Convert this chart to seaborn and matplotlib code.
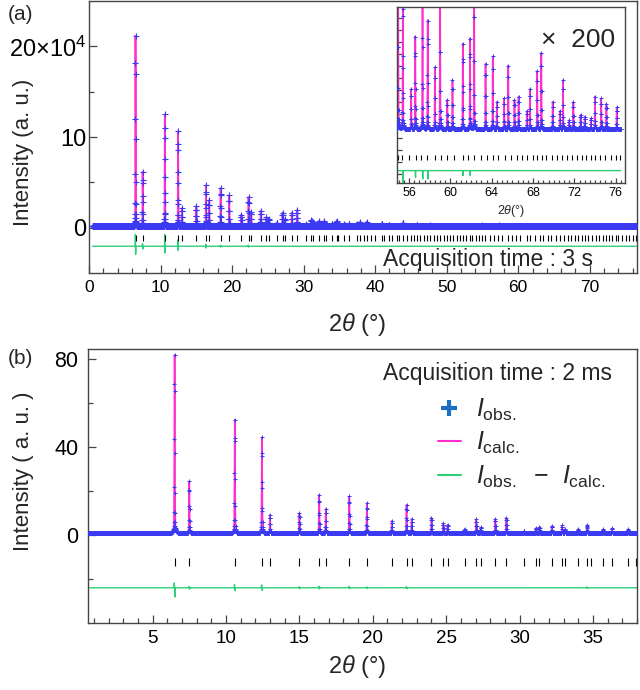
import numpy as np
import pandas as pd
import matplotlib
matplotlib.use("Agg")
import matplotlib.pyplot as plt
from matplotlib.ticker import MultipleLocator, FixedLocator, NullFormatter
from matplotlib.lines import Line2D
import seaborn as sns

# ---------------- data ----------------
# main reflection positions (2theta, deg) with peak heights
peak_pos = [6.5, 7.5, 10.6, 12.45, 13.0, 15.0, 16.35, 16.8, 18.4, 19.6,
            21.3, 22.3, 22.65, 24.0, 24.8, 25.1, 26.25, 27.05, 27.35, 28.35,
            29.1, 30.3, 31.1, 31.35, 32.2, 32.9, 33.1, 34.0, 34.6, 35.7,
            36.3, 37.4]
# panel (a): heights in units of 1e4 counts
heights_a = [21.0, 6.0, 12.3, 10.5, 2.0, 2.2, 4.5, 2.9, 4.2, 3.4,
             1.3, 3.2, 1.6, 1.7, 1.0, 0.8, 0.4, 1.5, 0.8, 1.5,
             1.8, 0.2, 0.7, 0.5, 0.6, 0.6, 0.3, 0.3, 0.6, 0.2,
             0.3, 0.2]
# panel (b): heights
heights_b = [81.0, 23.5, 51.5, 43.5, 8.3, 9.0, 17.4, 11.0, 16.7, 13.6,
             5.6, 12.9, 6.4, 7.1, 4.5, 3.8, 1.8, 6.4, 2.6, 6.5,
             7.1, 1.0, 2.3, 2.7, 3.3, 3.5, 1.8, 2.0, 3.8, 1.7,
             2.3, 1.8]
# extra high-angle peaks of panel (a) (seen in the x200 inset), 1e4 counts
high_pos = [37.9, 38.8, 40.9, 41.9, 43.9, 45.8, 47.7, 50.5,
            54.94, 55.4, 56.2, 56.6, 57.3, 57.8, 58.5, 59.0, 59.7, 60.2,
            61.2, 61.9, 62.3, 63.4, 64.1, 64.5, 65.2, 65.6, 66.2, 66.6,
            67.4, 67.7, 68.4, 68.8, 69.9, 70.6, 70.9, 71.5, 71.9, 72.6,
            73.0, 73.6, 74.0, 74.6, 75.1, 76.1]
high_heights = [0.5, 0.5, 0.3, 0.15, 0.4, 0.15, 0.1, 0.08,
                0.09, 0.08, 0.022, 0.051, 0.10, 0.060, 0.034, 0.085, 0.016, 0.027,
                0.047, 0.050, 0.075, 0.036, 0.040, 0.015, 0.017, 0.035, 0.016, 0.018,
                0.010, 0.022, 0.032, 0.042, 0.015, 0.010, 0.027, 0.005, 0.015, 0.008,
                0.007, 0.006, 0.018, 0.017, 0.014, 0.012]
# Bragg reflection tick positions
refl_pos = [6.5, 7.5, 10.6, 12.45, 13.0, 15.0, 16.35, 16.8, 18.4, 19.6,
            21.3, 22.3, 22.65, 24.0, 24.8, 25.1, 26.25, 27.05, 27.35, 28.35,
            29.1, 30.3, 31.1, 31.35, 32.2, 32.9, 33.1, 34.0, 34.6, 34.85,
            35.7, 36.3, 37.4, 37.9, 38.4, 38.8, 39.4, 40.0, 40.9, 41.3,
            41.9, 42.4, 43.0, 43.4, 43.9, 44.5, 45.0, 45.4, 45.8, 46.3,
            46.8, 47.2, 47.7, 48.2, 48.6, 49.1, 49.6, 50.0, 50.5, 50.9,
            51.4, 51.8, 52.3, 52.7, 53.2, 53.6, 54.1, 54.5, 54.95, 55.36,
            56.0, 56.65, 57.2, 57.75, 58.5, 59.1, 59.7, 60.3, 61.2, 61.7,
            62.3, 63.0, 63.5, 64.1, 64.6, 65.3, 65.9, 66.4, 66.9, 67.4,
            68.0, 68.4, 68.9, 69.3, 69.8, 70.3, 70.8, 71.3, 71.8, 72.3,
            72.7, 73.1, 73.6, 74.0, 74.5, 75.0, 75.5, 76.0, 76.4]
# residual spikes (obs - calc)
diff_pos_a = [6.5, 7.5, 10.6, 12.45, 16.35, 18.4, 22.3,
              55.4, 56.6, 57.3, 57.8, 61.2, 61.9]
diff_up_a = [1.3, 0.3, 1.3, 0.7, 0.2, 0.1, 0.1,
             0.0, 0.0, 0.0, 0.0, 0.0, 0.0]
diff_down_a = [0.9, 0.3, 0.75, 0.45, 0.2, 0.1, 0.1,
               0.0065, 0.0037, 0.0046, 0.0046, 0.0028, 0.0028]
diff_pos_b = [6.5, 7.5, 10.6, 12.45, 15.0, 16.35, 18.4, 19.6, 22.3, 34.6]
diff_up_b = [2.2, 0.6, 1.5, 1.3, 0.5, 0.7, 0.6, 0.4, 0.5, 0.4]
diff_down_b = [4.2, 0.6, 1.3, 1.2, 0.4, 0.5, 0.4, 0.3, 0.4, 0.3]
background_a = 0.15
background_b = 0.8

# ---------------- styling ----------------
sns.set_theme(style="white")
plt.rcParams['font.family'] = ['Liberation Sans', 'DejaVu Sans']
plt.rcParams['mathtext.fontset'] = 'custom'
plt.rcParams['mathtext.rm'] = 'Liberation Sans'
plt.rcParams['mathtext.it'] = 'Liberation Sans:italic'
plt.rcParams['mathtext.bf'] = 'Liberation Sans:bold'

BLUE = '#3a3af2'
PINK = '#ff2fcf'
GREEN = '#2fcf7a'
LEG_BLUE = '#1f6fc0'
SPINE = '#444444'


def pv(x, pos, hts, fwhm=0.04, eta=0.4):
    y = np.zeros_like(x)
    for p, a in zip(pos, hts):
        t = (x - p) / (fwhm / 2)
        y += a * ((1 - eta) * np.exp(-np.log(2) * t ** 2) + eta / (1 + t ** 2))
    return y


def resid(x, pos, up, down, w=0.012):
    y = np.zeros_like(x)
    for p, u, d in zip(pos, up, down):
        y += u * np.exp(-((x - p + 1.6 * w) / w) ** 2) \
            - d * np.exp(-((x - p - 1.6 * w) / w) ** 2)
    return y


xa = np.arange(0.5, 76.5, 0.01)
calc_a = background_a + pv(xa, peak_pos + high_pos, heights_a + high_heights)
res_a = resid(xa, diff_pos_a, diff_up_a, diff_down_a)
obs_a = calc_a + res_a
dfa = pd.DataFrame({'x': xa, 'obs': obs_a, 'calc': calc_a, 'res': res_a})

xb = np.arange(0.6, 38.0, 0.01)
calc_b = background_b + pv(xb, peak_pos, heights_b)
res_b = resid(xb, diff_pos_b, diff_up_b, diff_down_b)
obs_b = calc_b + res_b
dfb = pd.DataFrame({'x': xb, 'obs': obs_b, 'calc': calc_b, 'res': res_b})

W, H = 640, 690
fig = plt.figure(figsize=(W / 100, H / 100), dpi=100)


def fbox(l, t, r, b):
    return [l / W, 1 - b / H, (r - l) / W, (b - t) / H]


def style_axes(ax):
    for s in ax.spines.values():
        s.set_color(SPINE)
        s.set_linewidth(1.0)
    ax.tick_params(which='both', direction='in', colors=SPINE, width=0.9,
                   bottom=True, left=True, top=False, right=False,
                   labelcolor='black')
    ax.tick_params(which='major', length=6)
    ax.tick_params(which='minor', length=3.5)
    ax.set_xlabel('')
    ax.set_ylabel('')


# ---------------- panel (a) ----------------
axa = fig.add_axes(fbox(89, 1, 637, 273))
sns.lineplot(data=dfa, x='x', y='calc', ax=axa, color=PINK, lw=1.3,
             estimator=None, sort=False, zorder=2)
sns.scatterplot(data=dfa, x='x', y='obs', ax=axa, marker='+', s=16,
                color=BLUE, linewidth=0.8, legend=False, zorder=3)
axa.plot(dfa['x'], dfa['res'] - 2.05, color=GREEN, lw=1.0, zorder=2)
axa.vlines(refl_pos, -1.5, -0.77, color='black', lw=0.8, zorder=2)
axa.set_xlim(0, 76.6)
axa.set_ylim(-5, 25)
axa.xaxis.set_major_locator(MultipleLocator(10))
axa.xaxis.set_minor_locator(MultipleLocator(2))
axa.yaxis.set_major_locator(FixedLocator([0, 10, 20]))
axa.yaxis.set_minor_locator(FixedLocator([5, 15]))
axa.set_yticklabels(['0', '10', '20×10$^{4}$'])
style_axes(axa)
axa.tick_params(axis='x', labelsize=12.5, pad=5)
axa.tick_params(axis='y', labelsize=17, pad=2)
axa.text(0.92, 0.026, 'Acquisition time : 3 s', transform=axa.transAxes,
         ha='right', va='baseline', fontsize=16.5)

# inset (x200)
axi = fig.add_axes(fbox(396.7, 6.7, 625, 183))
axi.set_facecolor('white')
sub = dfa[dfa['x'] > 54.5]
sns.lineplot(data=sub, x='x', y='calc', ax=axi, color=PINK, lw=1.2,
             estimator=None, sort=False, zorder=2)
sns.scatterplot(data=sub, x='x', y='obs', ax=axi, marker='+', s=12,
                color=BLUE, linewidth=0.7, legend=False, zorder=3)
axi.plot(sub['x'], sub['res'] + background_a - 0.0227, color=GREEN, lw=1.0)
axi.vlines(refl_pos, background_a - 0.0170, background_a - 0.0142,
           color='black', lw=0.8)
axi.set_xlim(54.8, 76.9)
axi.set_ylim(background_a - 0.0295, background_a + 0.0674)
axi.xaxis.set_major_locator(MultipleLocator(4))
axi.xaxis.set_minor_locator(MultipleLocator(0.5))
axi.yaxis.set_major_locator(MultipleLocator(0.0066))
axi.yaxis.set_major_formatter(NullFormatter())
style_axes(axi)
axi.tick_params(which='major', length=3.5)
axi.tick_params(which='minor', length=2)
axi.tick_params(axis='x', labelsize=9, pad=3)
axi.set_xlabel('2$\\theta$(°)', fontsize=9, labelpad=3)
axi.text(0.956, 0.771, '×  200', transform=axi.transAxes, ha='right',
         va='baseline', fontsize=19)

# ---------------- panel (b) ----------------
axb = fig.add_axes(fbox(88, 349, 637, 623))
sns.lineplot(data=dfb, x='x', y='calc', ax=axb, color=PINK, lw=1.2,
             estimator=None, sort=False, zorder=2)
sns.scatterplot(data=dfb, x='x', y='obs', ax=axb, marker='+', s=7,
                color=BLUE, linewidth=0.7, legend=False, zorder=3)
axb.plot(dfb['x'], dfb['res'] - 24, color=GREEN, lw=1.0, zorder=2)
axb.vlines([p for p in refl_pos if p < 38], -14.0, -10.3, color='black',
           lw=0.8, zorder=2)
axb.set_xlim(0.6, 38)
axb.set_ylim(-40, 84.5)
axb.xaxis.set_major_locator(MultipleLocator(5))
axb.xaxis.set_minor_locator(MultipleLocator(1))
axb.yaxis.set_major_locator(FixedLocator([0, 40, 80]))
axb.yaxis.set_minor_locator(FixedLocator([-20, 20, 60]))
style_axes(axb)
axb.tick_params(axis='x', labelsize=13.5, pad=5)
axb.tick_params(axis='y', labelsize=15.5, pad=7)
axb.text(0.954, 0.887, 'Acquisition time : 2 ms', transform=axb.transAxes,
         ha='right', va='baseline', fontsize=16.5)

handles = [
    Line2D([], [], color=LEG_BLUE, marker='+', ls='none', markersize=11,
           markeredgewidth=3),
    Line2D([], [], color=PINK, lw=1.5),
    Line2D([], [], color=GREEN, lw=1.5),
]
labels = ['$I_{\\mathrm{obs.}}$', '$I_{\\mathrm{calc.}}$',
          '$I_{\\mathrm{obs.}}$  −  $I_{\\mathrm{calc.}}$']
fig.legend(handles, labels, loc='upper left',
           bbox_to_anchor=(438 / W, 1 - 397 / H), frameon=False,
           fontsize=18, handlelength=0.9, handletextpad=0.6,
           labelspacing=0.28, borderaxespad=0, borderpad=0)

# ---------------- labels ----------------
fig.text(24 / W, 1 - 152 / H, 'Intensity (a. u.)', rotation=90,
         ha='center', va='center', fontsize=16)
fig.text(24 / W, 1 - 471 / H, 'Intensity ( a. u. )', rotation=90,
         ha='center', va='center', fontsize=16)
fig.text(357 / W, 1 - 325 / H, '2$\\theta$ (°)', ha='center', va='center',
         fontsize=17)
fig.text(357 / W, 1 - 666 / H, '2$\\theta$ (°)', ha='center', va='center',
         fontsize=17)
fig.text(8 / W, 1 - 14 / H, '(a)', ha='left', va='center', fontsize=15)
fig.text(8 / W, 1 - 359 / H, '(b)', ha='left', va='center', fontsize=15)

fig.savefig('out.png', dpi=100)
